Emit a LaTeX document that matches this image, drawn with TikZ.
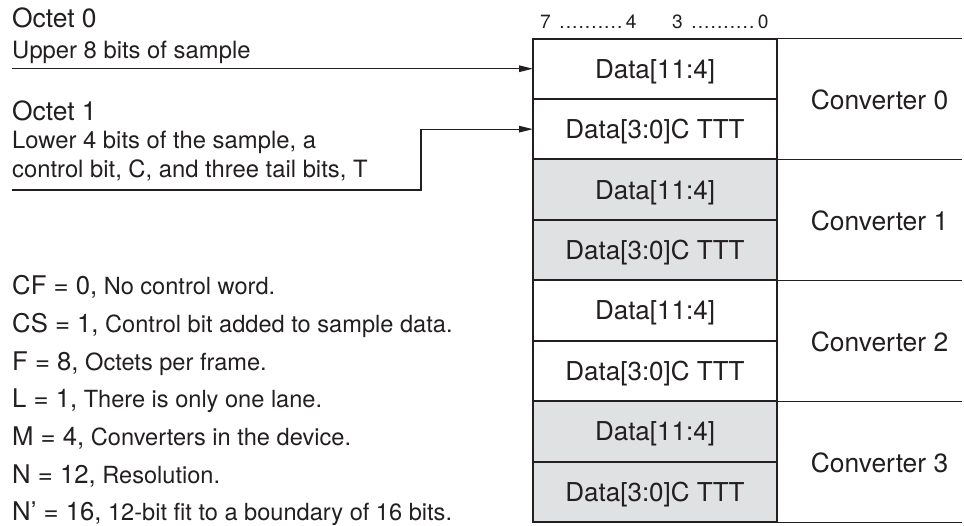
\documentclass[tikz,border=0pt]{standalone}
\usepackage{fontspec}
\setmainfont{TeX Gyre Heros}
\usetikzlibrary{arrows.meta,calc}
\definecolor{ink}{HTML}{231F20}
\definecolor{cellgray}{HTML}{E0E1E3}
\newcommand\setfs[1]{\fontsize{#1}{#1}\selectfont}
% a run of ten evenly spaced dots between bit numbers
\newcommand\bitdots{\cleaders\hbox to 6.4pt{\hss.\hss}\hskip 64pt}
\begin{document}
\begin{tikzpicture}[x=1pt,y=-1pt,
  cell/.style={draw=ink, line width=2pt, minimum width=244pt, minimum height=60.44pt,
               inner sep=0pt, outer sep=0pt},
  graycell/.style={cell, fill=cellgray},
  datatxt/.style={anchor=base, inner sep=0pt, text=ink, font=\setfs{26}},
  convtxt/.style={anchor=base, inner sep=0pt, text=ink, font=\setfs{26.4}},
  headtxt/.style={anchor=base west, inner sep=0pt, text=ink, font=\setfs{19.2}},
  titletxt/.style={anchor=base west, inner sep=0pt, text=ink, font=\setfs{26.4}},
  desctxt/.style={anchor=base west, inner sep=0pt, text=ink, font=\setfs{23.8}},
  listtxt/.style={anchor=base west, inner sep=0pt, text=ink, font=\setfs{23.6}},
  sepline/.style={draw=ink, line width=1pt},
  arrowline/.style={draw=ink, line width=1.2pt, -{Triangle[length=14pt,width=6.5pt]}}
]
\useasboundingbox (0,0) rectangle (964,525);

% octet cells of the frame
\node[cell]     (r0) at (655,68.72)  {};
\node[cell]     (r1) at (655,129.16) {};
\node[graycell] (r2) at (655,189.60) {};
\node[graycell] (r3) at (655,250.04) {};
\node[cell]     (r4) at (655,310.48) {};
\node[cell]     (r5) at (655,370.92) {};
\node[graycell] (r6) at (655,431.36) {};
\node[graycell] (r7) at (655,491.80) {};

\node[datatxt] (t0) at ($(r0.center)+(0,9.5)$) {Data[11:4]};
\node[datatxt] (t1) at ($(r1.center)+(0,9.5)$) {Data[3:0]C TTT};
\node[datatxt] (t2) at ($(r2.center)+(0,9.5)$) {Data[11:4]};
\node[datatxt] (t3) at ($(r3.center)+(0,9.5)$) {Data[3:0]C TTT};
\node[datatxt] (t4) at ($(r4.center)+(0,9.5)$) {Data[11:4]};
\node[datatxt] (t5) at ($(r5.center)+(0,9.5)$) {Data[3:0]C TTT};
\node[datatxt] (t6) at ($(r6.center)+(0,9.5)$) {Data[11:4]};
\node[datatxt] (t7) at ($(r7.center)+(0,9.5)$) {Data[3:0]C TTT};

% bit numbering above the cells
\node[headtxt] (h0) at (540,28) {7\hskip 8pt\bitdots\hskip 3pt 4};
\node[headtxt] (h1) at (672,28) {3\hskip 8pt\bitdots\hskip 3pt 0};

% converter separators and labels
\coordinate (e0) at (962,38.5);
\coordinate (e1) at (962,159.38);
\coordinate (e2) at (962,280.26);
\coordinate (e3) at (962,401.14);
\coordinate (e4) at (962,522.02);
\draw[sepline] (r0.north east) -- (e0);
\draw[sepline] (r1.south east) -- (e1);
\draw[sepline] (r3.south east) -- (e2);
\draw[sepline] (r5.south east) -- (e3);
\draw[sepline] (r7.south east) -- (e4);

\node[convtxt] (c0) at (879.5,109.9) {Converter 0};
\node[convtxt] (c1) at (879.5,230.8) {Converter 1};
\node[convtxt] (c2) at (879.5,351.7) {Converter 2};
\node[convtxt] (c3) at (879.5,472.6) {Converter 3};

% octet descriptions with their pointers
\node[titletxt] (o0)  at (12,27)    {Octet 0};
\node[desctxt]  (o0d) at (12,58)    {Upper 8 bits of sample};
\node[titletxt] (o1)  at (12,120)   {Octet 1};
\node[desctxt]  (o1a) at (12,148.5) {Lower 4 bits of the sample, a};
\node[desctxt]  (o1b) at (12,177)   {control bit, C, and three tail bits, T};

\coordinate (a0) at (12,68.72);
\draw[arrowline] (a0) -- (r0.west);
\coordinate (b0) at (12,190);
\coordinate (b1) at (421,190);
\draw[arrowline] (b0) -- (b1) |- (r1.west);

% link parameters
\node[listtxt] (p0) at (12,294.5) {{\setfs{25.7}CF = 0,} No control word.};
\node[listtxt] (p1) at (12,332.3) {{\setfs{25.7}CS = 1,} Control bit added to sample data.};
\node[listtxt] (p2) at (12,370.1) {{\setfs{25.7}F = 8,} Octets per frame.};
\node[listtxt] (p3) at (12,407.9) {{\setfs{25.7}L = 1,} There is only one lane.};
\node[listtxt] (p4) at (12,445.7) {{\setfs{25.7}M = 4,} Converters in the device.};
\node[listtxt] (p5) at (12,483.5) {{\setfs{25.7}N = 12,} Resolution.};
\node[listtxt] (p6) at (12,520.5) {{\setfs{25.7}N’ = 16,} 12-bit fit to a boundary of 16 bits.};
\end{tikzpicture}
\end{document}
